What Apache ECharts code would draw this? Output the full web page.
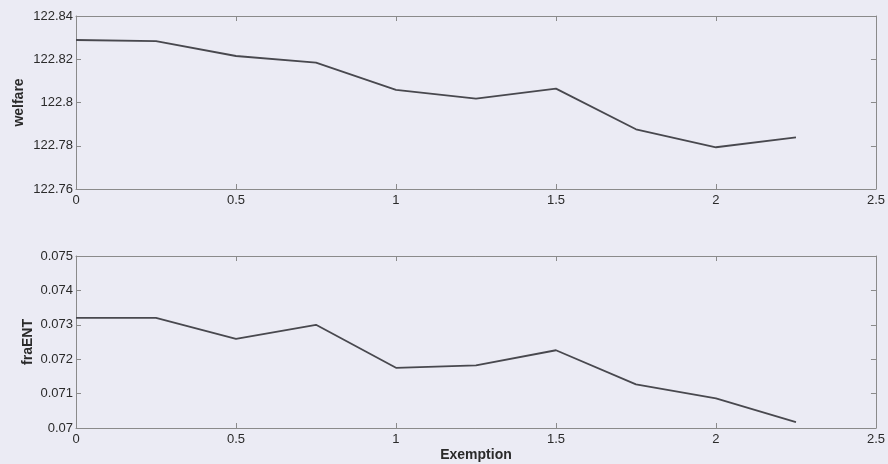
<!DOCTYPE html>
<html><head><meta charset="utf-8">
<script src="https://cdn.jsdelivr.net/npm/echarts@6/dist/echarts.min.js"></script>
<style>html,body{margin:0;padding:0;background:#ebebf4;}#c{width:888px;height:464px;}</style>
</head><body><div id="c"></div>
<script>
const exemption = [0, 0.25, 0.5, 0.75, 1.0, 1.25, 1.5, 1.75, 2.0, 2.25];
const welfare = [122.8289, 122.8284, 122.8215, 122.8184, 122.8058, 122.8018, 122.8064, 122.7876, 122.7793, 122.7839];
const fraENT = [0.07320, 0.07320, 0.07259, 0.07300, 0.07175, 0.07182, 0.07226, 0.07127, 0.07086, 0.07017];

const textColor = '#2a2a2a';
const axisColor = '#8a8a8a';
const font = 'Liberation Sans, Arial, sans-serif';

function xAx(gi, showLabel, name) {
  return [{
    type: 'value', gridIndex: gi, min: 0, max: 2.5, interval: 0.5, position: 'bottom',
    axisLine: {show: true, onZero: false, lineStyle: {color: axisColor, width: 1}},
    axisTick: {show: true, inside: true, length: 5, lineStyle: {color: axisColor}},
    axisLabel: {show: showLabel, color: textColor, fontSize: 13, fontFamily: font, margin: 5},
    splitLine: {show: false},
    name: name || '', nameLocation: 'middle', nameGap: 20, nameMoveOverlap: false,
    nameTextStyle: {color: textColor, fontSize: 14, fontWeight: 'bold', fontFamily: font}
  }, {
    type: 'value', gridIndex: gi, min: 0, max: 2.5, interval: 0.5, position: 'top',
    axisLine: {show: true, onZero: false, lineStyle: {color: axisColor, width: 1}},
    axisTick: {show: true, inside: true, length: 5, lineStyle: {color: axisColor}},
    axisLabel: {show: false}, splitLine: {show: false}
  }];
}
function yAx(gi, min, max, interval, name, fmt, gap) {
  return [{
    type: 'value', gridIndex: gi, min: min, max: max, interval: interval, position: 'left',
    axisLine: {show: true, onZero: false, lineStyle: {color: axisColor, width: 1}},
    axisTick: {show: true, inside: true, length: 5, lineStyle: {color: axisColor}},
    axisLabel: {color: textColor, fontSize: 13, fontFamily: font, margin: 3, formatter: fmt},
    splitLine: {show: false},
    name: name, nameLocation: 'middle', nameGap: gap, nameRotate: 90, nameMoveOverlap: false,
    nameTextStyle: {color: textColor, fontSize: 14, fontWeight: 'bold', fontFamily: font}
  }, {
    type: 'value', gridIndex: gi, min: min, max: max, interval: interval, position: 'right',
    axisLine: {show: true, onZero: false, lineStyle: {color: axisColor, width: 1}},
    axisTick: {show: true, inside: true, length: 5, lineStyle: {color: axisColor}},
    axisLabel: {show: false}, splitLine: {show: false}
  }];
}
function fmtW(v) { return String(parseFloat(v.toFixed(2))); }
function fmtF(v) { return String(parseFloat(v.toFixed(3))); }

const chart = echarts.init(document.getElementById('c'), null, {renderer: 'canvas'});
chart.setOption({
  backgroundColor: '#ebebf4',
  animation: false,
  grid: [
    {left: 76, right: 10, top: 16, height: 173},
    {left: 76, right: 10, top: 256, height: 172}
  ],
  xAxis: [].concat(xAx(0, true), xAx(1, true, 'Exemption')),
  yAxis: [].concat(yAx(0, 122.76, 122.84, 0.02, 'welfare', fmtW, 50), yAx(1, 0.07, 0.075, 0.001, 'fraENT', fmtF, 41)),
  series: [
    {type: 'line', xAxisIndex: 0, yAxisIndex: 0, data: exemption.map((x, i) => [x, welfare[i]]),
     showSymbol: false, lineStyle: {color: '#48484e', width: 1.8}},
    {type: 'line', xAxisIndex: 2, yAxisIndex: 2, data: exemption.map((x, i) => [x, fraENT[i]]),
     showSymbol: false, lineStyle: {color: '#48484e', width: 1.8}}
  ]
});
</script></body></html>
